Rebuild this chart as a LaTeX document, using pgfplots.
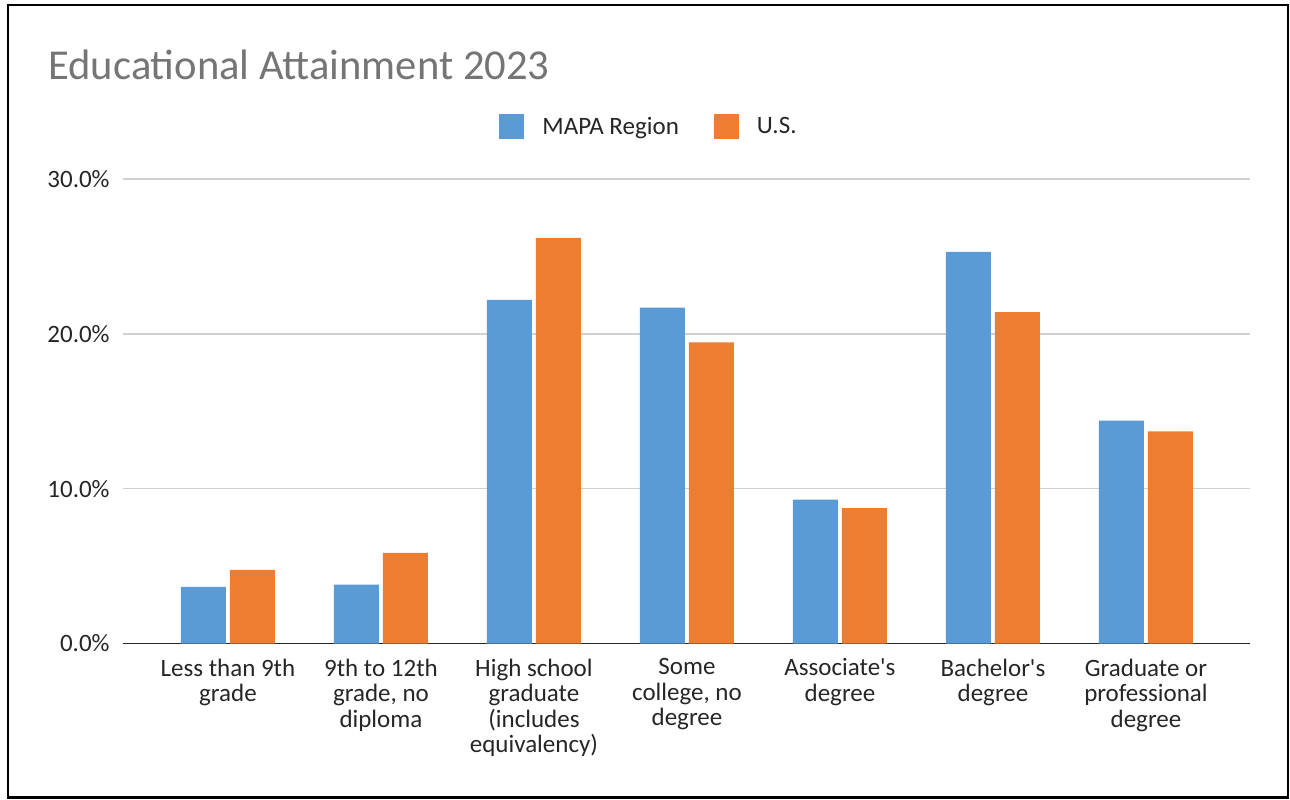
\documentclass[border=0pt]{standalone}
\usepackage{pgfplots}
\pgfplotsset{compat=1.18}
\usepackage{fontspec}
\setmainfont{Carlito}[Ligatures=TeXOff]
\definecolor{mapa}{HTML}{5B9BD5}
\definecolor{us}{HTML}{ED7D31}
\definecolor{gridc}{HTML}{D0D0D0}
\definecolor{titlec}{HTML}{757575}
\definecolor{txt}{HTML}{262626}
\begin{document}
\begin{tikzpicture}[x=1pt,y=1pt]
\path[use as bounding box] (0,0) rectangle (645,399.5);
\draw[line width=1.1pt] (4,0.8) rectangle (644,397);
\node[anchor=base west, font=\fontsize{21.3}{25}\selectfont, text=titlec, inner sep=0] at (24,359.5) {Educational Attainment 2023};
\begin{axis}[
  at={(61.5pt,77.75pt)}, anchor=south west,
  scale only axis, width=563.5pt, height=232.25pt,
  ymin=0, ymax=30, xmin=-0.686, xmax=6.68,
  ybar=2pt, bar width=22.5pt,
  ytick={0,10,20,30}, yticklabels={0.0\%,10.0\%,20.0\%,30.0\%},
  xtick={0,...,6},
  xticklabels={{Less than 9th\\grade},{9th to 12th\\grade, no\\diploma},{High school\\graduate\\(includes\\equivalency)},{Some\\college, no\\degree},{Associate's\\degree},{Bachelor's\\degree},{Graduate or\\professional\\degree}},
  ymajorgrids, grid style={gridc, line width=0.7pt},
  axis x line*=bottom, axis y line*=left,
  y axis line style={draw=none},
  x axis line style={draw=black!85, line width=0.9pt, -},
  tick style={draw=none}, major tick length=0pt,
  tick label style={font=\fontsize{12.5}{12.75}\selectfont, text=txt},
  yticklabel style={inner sep=0pt, xshift=-6.5pt},
  xticklabel style={inner sep=0pt, yshift=-7.4pt, align=center},
  legend columns=2,
  legend style={at={(0.4676,1.112)}, anchor=center, draw=none, fill=none,
    font=\fontsize{12.5}{14}\selectfont, text=txt,
    /tikz/every odd column/.append style={column sep=7pt},
    /tikz/every even column/.append style={column sep=15.5pt}},
  legend image code/.code={\fill[#1] (0pt,-6.25pt) rectangle (12.5pt,6.25pt);},
]
\addplot[fill=mapa, draw=none] coordinates {(0,3.65) (1,3.8) (2,22.2) (3,21.7) (4,9.3) (5,25.3) (6,14.4)};
\addplot[fill=us, draw=none] coordinates {(0,4.75) (1,5.85) (2,26.2) (3,19.45) (4,8.75) (5,21.4) (6,13.7)};
\legend{MAPA Region, U.S.}
\end{axis}
\end{tikzpicture}
\end{document}
